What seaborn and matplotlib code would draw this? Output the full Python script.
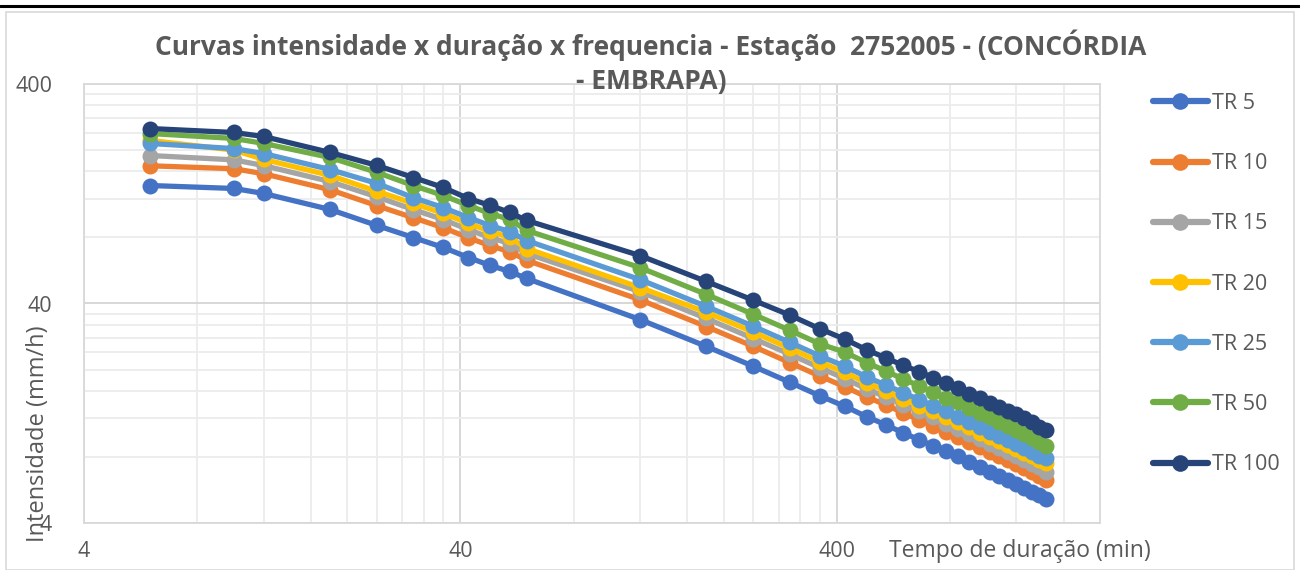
import numpy as np
import pandas as pd
import matplotlib
matplotlib.use("Agg")
import matplotlib.pyplot as plt
from matplotlib.ticker import FixedLocator, NullFormatter
from matplotlib.lines import Line2D
from matplotlib.patches import Rectangle
import seaborn as sns

# ---------------- data ----------------
durations = [6, 10, 12, 18, 24, 30, 36, 42, 48, 54, 60, 120, 180, 240, 300, 360,
             420, 480, 540, 600, 660, 720, 780, 840, 900, 960, 1020, 1080, 1140,
             1200, 1260, 1320, 1380, 1440]

tr5 = [137.9, 133.7, 126.9, 107.3, 90.7, 79.9, 72.0, 64.8, 59.6, 56.0, 52.0, 33.8,
       25.5, 20.7, 17.5, 15.2, 13.6, 12.2, 11.2, 10.3, 9.6, 9.0, 8.47, 8.04, 7.62,
       7.23, 6.86, 6.58, 6.31, 6.05, 5.80, 5.56, 5.34, 5.12]
tr10 = [169.6, 164.5, 156.1, 132.0, 111.6, 98.3, 88.6, 79.7, 73.3, 68.9, 62.9, 41.6,
        31.4, 25.5, 21.5, 18.7, 16.7, 15.0, 13.8, 12.7, 11.8, 11.1, 10.4, 9.89, 9.37,
        8.89, 8.44, 8.09, 7.76, 7.44, 7.13, 6.84, 6.57, 6.30]
tr15 = [188.9, 180.5, 170.0, 143.8, 122.4, 107.1, 96.5, 86.8, 79.9, 75.0, 67.6, 45.3,
        34.2, 27.7, 23.5, 20.4, 18.2, 16.3, 15.0, 13.8, 12.9, 12.1, 11.35, 10.77, 10.21,
        9.69, 9.19, 8.82, 8.46, 8.11, 7.77, 7.45, 7.16, 6.86]
tr20 = [221.2, 200.0, 181.5, 153.4, 129.7, 114.3, 103.0, 92.7, 85.2, 80.1, 71.2, 47.3,
        36.5, 29.6, 25.0, 21.7, 19.4, 17.4, 16.0, 14.7, 13.7, 12.9, 12.1, 11.5, 10.9,
        10.3, 9.81, 9.41, 9.02, 8.65, 8.35, 8.06, 7.74, 7.48]
tr25 = [214.3, 203.2, 192.9, 163.1, 141.0, 121.4, 109.4, 98.5, 90.6, 85.1, 77.4, 51.4,
        38.8, 31.5, 26.6, 23.1, 20.7, 18.5, 17.0, 15.7, 14.6, 13.7, 12.9, 12.2, 11.6,
        11.0, 10.4, 10.0, 9.59, 9.20, 8.82, 8.45, 8.12, 7.87]
tr50 = [237.9, 226.0, 214.5, 185.1, 158.2, 137.8, 124.2, 111.8, 102.8, 96.6, 86.1, 58.3,
        44.0, 35.7, 30.2, 26.2, 24.0, 21.5, 19.7, 18.1, 16.9, 15.8, 14.9, 14.2, 13.4,
        12.7, 12.1, 11.6, 11.1, 10.6, 10.2, 9.79, 9.40, 8.93]
tr100 = [250.7, 240.5, 230.7, 195.1, 170.2, 150.0, 135.1, 120.3, 111.9, 104.0, 95.6, 66.1,
         50.4, 41.4, 35.4, 30.7, 27.5, 24.6, 22.6, 20.9, 19.6, 18.4, 17.3, 16.4, 15.5,
         14.8, 14.1, 13.5, 13.0, 12.5, 12.0, 11.5, 11.0, 10.56]

series_names = ["TR 5", "TR 10", "TR 15", "TR 20", "TR 25", "TR 50", "TR 100"]
series_values = [tr5, tr10, tr15, tr20, tr25, tr50, tr100]
colors = ["#4472C4", "#ED7D31", "#A5A5A5", "#FFC000", "#5B9BD5", "#70AD47", "#264478"]

title_line1 = "Curvas intensidade x duração x frequencia - Estação  2752005 - (CONCÓRDIA"
title_line2 = "- EMBRAPA)"
x_label = "Tempo de duração (min)"
y_label = "Intensidade (mm/h)"
major_ticks = [4, 40, 400]
tick_labels = ["4", "40", "400"]

rows = []
for name, vals in zip(series_names, series_values):
    for t, v in zip(durations, vals):
        rows.append({"t": t, "i": v, "TR": name})
df = pd.DataFrame(rows)

# ---------------- figure ----------------
sns.set_style("white")
plt.rcParams["font.family"] = ["Open Sans", "DejaVu Sans"]
text_color = "#595959"

W, H = 1300, 570
fig = plt.figure(figsize=(W / 100, H / 100), dpi=100)
ax = fig.add_axes([84 / W, 1 - 523 / H, (1100 - 84) / W, (523 - 84) / H])

sns.lineplot(data=df, x="t", y="i", hue="TR", hue_order=series_names,
             palette=colors, marker="o", markersize=11.5, markeredgewidth=0,
             linewidth=3.8, ax=ax, legend=True, estimator=None, sort=True)

ax.set_xscale("log")
ax.set_yscale("log")
ax.set_xlim(4, 2000)
ax.set_ylim(4, 400)

minor_x = [m * d for d in (4, 40, 400) for m in range(2, 10) if m * d < 2000]
minor_y = [m * d for d in (4, 40) for m in range(2, 10)]
ax.xaxis.set_major_locator(FixedLocator(major_ticks))
ax.yaxis.set_major_locator(FixedLocator(major_ticks))
ax.xaxis.set_minor_locator(FixedLocator(minor_x))
ax.yaxis.set_minor_locator(FixedLocator(minor_y))
ax.xaxis.set_minor_formatter(NullFormatter())
ax.yaxis.set_minor_formatter(NullFormatter())
ax.set_xticklabels(tick_labels)
ax.set_yticklabels(tick_labels)

ax.grid(True, which="major", color="#d4d4d4", linewidth=1.3)
ax.grid(True, which="minor", color="#ececec", linewidth=1.3)
ax.set_axisbelow(True)
for s in ax.spines.values():
    s.set_color("#d9d9d9")
    s.set_linewidth(1.3)

ax.tick_params(axis="both", which="both", length=0, labelsize=15.5, colors=text_color)
ax.tick_params(axis="x", pad=13)
ax.tick_params(axis="y", pad=23)
ax.set_xlabel("")
ax.set_ylabel("")

# axis titles
fig.text(889 / W, 1 - 551 / H, x_label, ha="left", va="center",
         fontsize=16.5, color=text_color)
fig.text(38 / W, 1 - 434 / H, y_label, ha="center", va="center", rotation=90,
         fontsize=17, color=text_color)

# title
fig.text(651 / W, 1 - 45 / H, title_line1, ha="center", va="center",
         fontsize=19, fontweight="bold", color=text_color)
fig.text(651 / W, 1 - 81 / H, title_line2, ha="center", va="center",
         fontsize=19, fontweight="bold", color=text_color)

# legend
handles, labels = ax.get_legend_handles_labels()
for h in handles:
    h.set_linewidth(4.5)
    h.set_markersize(12)
leg = ax.legend(handles, labels, loc="upper left",
                bbox_to_anchor=(1153 / W, 1 - 93 / H), bbox_transform=fig.transFigure,
                frameon=False, fontsize=15.5, labelspacing=1.82, handlelength=2.55,
                handletextpad=0.2, borderpad=0, borderaxespad=0)
for t in leg.get_texts():
    t.set_color(text_color)

# chart border and top dark line
fig.add_artist(Rectangle((6 / W, 0), 1 - 12 / W, 1 - 12 / H, transform=fig.transFigure,
                         fill=False, edgecolor="#d9d9d9", linewidth=1.2))
fig.add_artist(Line2D([0, 1], [1 - 6 / H, 1 - 6 / H], transform=fig.transFigure,
                      color="black", linewidth=2.2))

fig.savefig("out.png", dpi=100)
